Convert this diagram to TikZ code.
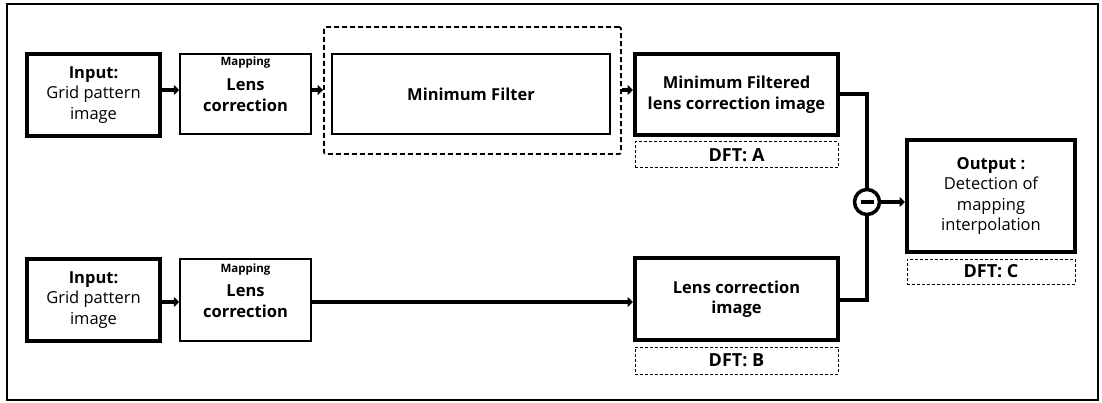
\documentclass[tikz,border=0pt]{standalone}
\usepackage{fontspec}
\setmainfont{Open Sans}
\usetikzlibrary{arrows.meta}
\begin{document}
\begin{tikzpicture}[x=1pt,y=-1pt,
  box/.style={draw,line width=1.5pt,inner sep=0pt,align=center,font=\fontsize{16.5}{20.5}\selectfont},
  thickbox/.style={box,line width=4pt},
  bt/.style={font=\fontsize{16.5}{20.5}\selectfont\bfseries,align=center},
  dftbox/.style={draw,line width=1pt,dash pattern=on 3pt off 2pt,inner sep=0pt,align=center,font=\fontsize{18}{20}\selectfont\bfseries},
  conn/.style={line width=3.5pt,-{Triangle[length=5.5pt,width=10pt]}},
  wire/.style={line width=3.5pt}
]
\useasboundingbox (0,0) rectangle (1102,403);
\draw[line width=2.5pt] (7,4) rectangle (1098,400);

% top row
\node[thickbox,minimum width=133pt,minimum height=82pt] (in1) at (93.5,95) {\textbf{Input:}\\Grid pattern\\image};
\node[box,minimum width=131pt,minimum height=80pt] (map1) at (245.5,94) {};
\node[font=\fontsize{11.5}{13}\selectfont\bfseries] (mapt1) at (245.5,63) {Mapping};
\node[bt] (lens1) at (245.5,95) {Lens\\correction};
\node[draw,line width=1.8pt,dash pattern=on 5pt off 3pt,rounded corners=2pt,minimum width=297pt,minimum height=127pt,inner sep=0pt] (dash) at (472.5,90.5) {};
\node[box,minimum width=278pt,minimum height=80pt,font=\fontsize{16.5}{20}\selectfont\bfseries] (minf) at (471,94) {Minimum Filter};
\node[thickbox,bt,minimum width=203pt,minimum height=81pt] (mfl) at (736.5,94.5) {Minimum Filtered\\lens correction image};
\node[dftbox,minimum width=203pt,minimum height=26pt] (dfta) at (736.5,155) {DFT: A};

% bottom row
\node[thickbox,minimum width=133pt,minimum height=82pt] (in2) at (93.5,300) {\textbf{Input:}\\Grid pattern\\image};
\node[box,minimum width=131pt,minimum height=82pt] (map2) at (245.5,300) {};
\node[font=\fontsize{11.5}{13}\selectfont\bfseries] (mapt2) at (245.5,270) {Mapping};
\node[bt] (lens2) at (245.5,301) {Lens\\correction};
\node[thickbox,bt,minimum width=203pt,minimum height=82pt] (lci) at (736.5,299) {Lens correction\\image};
\node[dftbox,minimum width=203pt,minimum height=27pt] (dftb) at (736.5,360.5) {DFT: B};

% output
\node[thickbox,minimum width=168pt,minimum height=112pt] (out) at (991,196) {\textbf{Output :}\\Detection of\\mapping\\interpolation};
\node[dftbox,minimum width=168pt,minimum height=25pt] (dftc) at (991,271.5) {DFT: C};

% minus
\node[draw,circle,line width=3.5pt,minimum size=25pt,inner sep=0pt,fill=white] (minus) at (867,202) {};
\draw[line width=3.5pt] ([xshift=-6.5pt]minus.center) -- ([xshift=6.5pt]minus.center);

% connectors
\draw[conn] (in1.east|-0,90) -- (map1.west|-0,90);
\draw[conn] (map1.east|-0,90) -- (dash.west|-0,90);
\draw[conn] (dash.east|-0,90) -- (mfl.west|-0,90);
\draw[conn] (in2.east|-0,302) -- (map2.west|-0,302);
\draw[conn] (map2.east|-0,302) -- (lci.west|-0,302);
\draw[wire] (mfl.east|-0,94) -| (minus.north);
\draw[wire] (lci.east|-0,300) -| (minus.south);
\draw[conn] (minus.east) -- (out.west|-minus.east);
\end{tikzpicture}
\end{document}
